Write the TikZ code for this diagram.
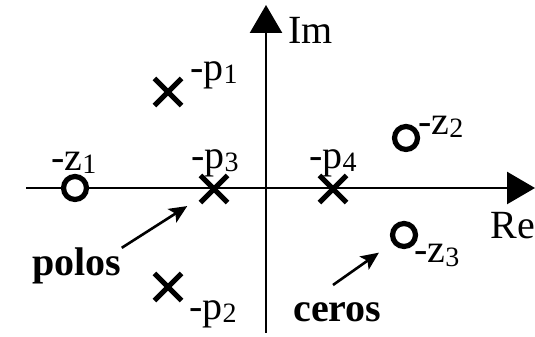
\documentclass[tikz,border=0pt]{standalone}
\usepackage{fontspec}
\setmainfont{Liberation Serif}
\usetikzlibrary{arrows.meta,shapes.misc}

\newcommand\idx[1]{\raisebox{-1.5pt}{\fontsize{14pt}{14pt}\selectfont #1}}

\begin{document}
\begin{tikzpicture}[x=0.5pt, y=0.5pt]

    % --------------------
    % Estilos
    % --------------------
    \tikzset{
        polo/.style={cross out, draw, line width=2.6pt, minimum size=11pt, inner sep=0pt},
        cero/.style={circle, draw, line width=2.6pt, minimum size=11.5pt, inner sep=0pt, fill=white},
        rotulo/.style={font=\fontsize{20pt}{24pt}\selectfont, inner sep=0pt, anchor=base west},
        destaque/.style={rotulo, font=\fontsize{20pt}{24pt}\selectfont\bfseries},
        eixo/.style={line width=1.3pt, -{Triangle[length=14pt, width=16pt]}},
        seta/.style={line width=1.3pt, -{Stealth[length=9pt, width=8pt, inset=2pt]}}
    }

    \useasboundingbox (0,0) rectangle (535,337);

    % --------------------
    % Eixos
    % --------------------
    \draw[eixo] (26,149) -- (535,149);
    \draw[eixo] (266,4) -- (266,332);

    \node[rotulo] (im) at (288,293) {Im};
    \node[rotulo] (re) at (490,98) {Re};

    % --------------------
    % Polos
    % --------------------
    \node[polo] (p1) at (168,245) {};
    \node[polo] (p2) at (168,50) {};
    \node[polo] (p3) at (214,148) {};
    \node[polo] (p4) at (333,148) {};

    \node[rotulo] (lp1) at (190,256) {-p\idx{1}};
    \node[rotulo] (lp2) at (189,18) {-p\idx{2}};
    \node[rotulo] (lp3) at (191,168) {-p\idx{3}};
    \node[rotulo] (lp4) at (309,168) {-p\idx{4}};

    % --------------------
    % Ceros
    % --------------------
    \node[cero] (z1) at (75,149) {};
    \node[cero] (z2) at (406,199) {};
    \node[cero] (z3) at (404,102) {};

    \node[rotulo] (lz1) at (51,166) {-z\idx{1}};
    \node[rotulo] (lz2) at (418,202) {-z\idx{2}};
    \node[rotulo] (lz3) at (414,74) {-z\idx{3}};

    % --------------------
    % Indicações
    % --------------------
    \node[destaque] (polos) at (32,61) {polos};
    \node[destaque] (ceros) at (293,16) {ceros};
    \coordinate (ceroscauda) at (333,52);

    \draw[seta, shorten >=7.8pt] (polos.north east) -- (p3);
    \draw[seta, shorten >=8.3pt] (ceroscauda) -- (z3);

\end{tikzpicture}
\end{document}
